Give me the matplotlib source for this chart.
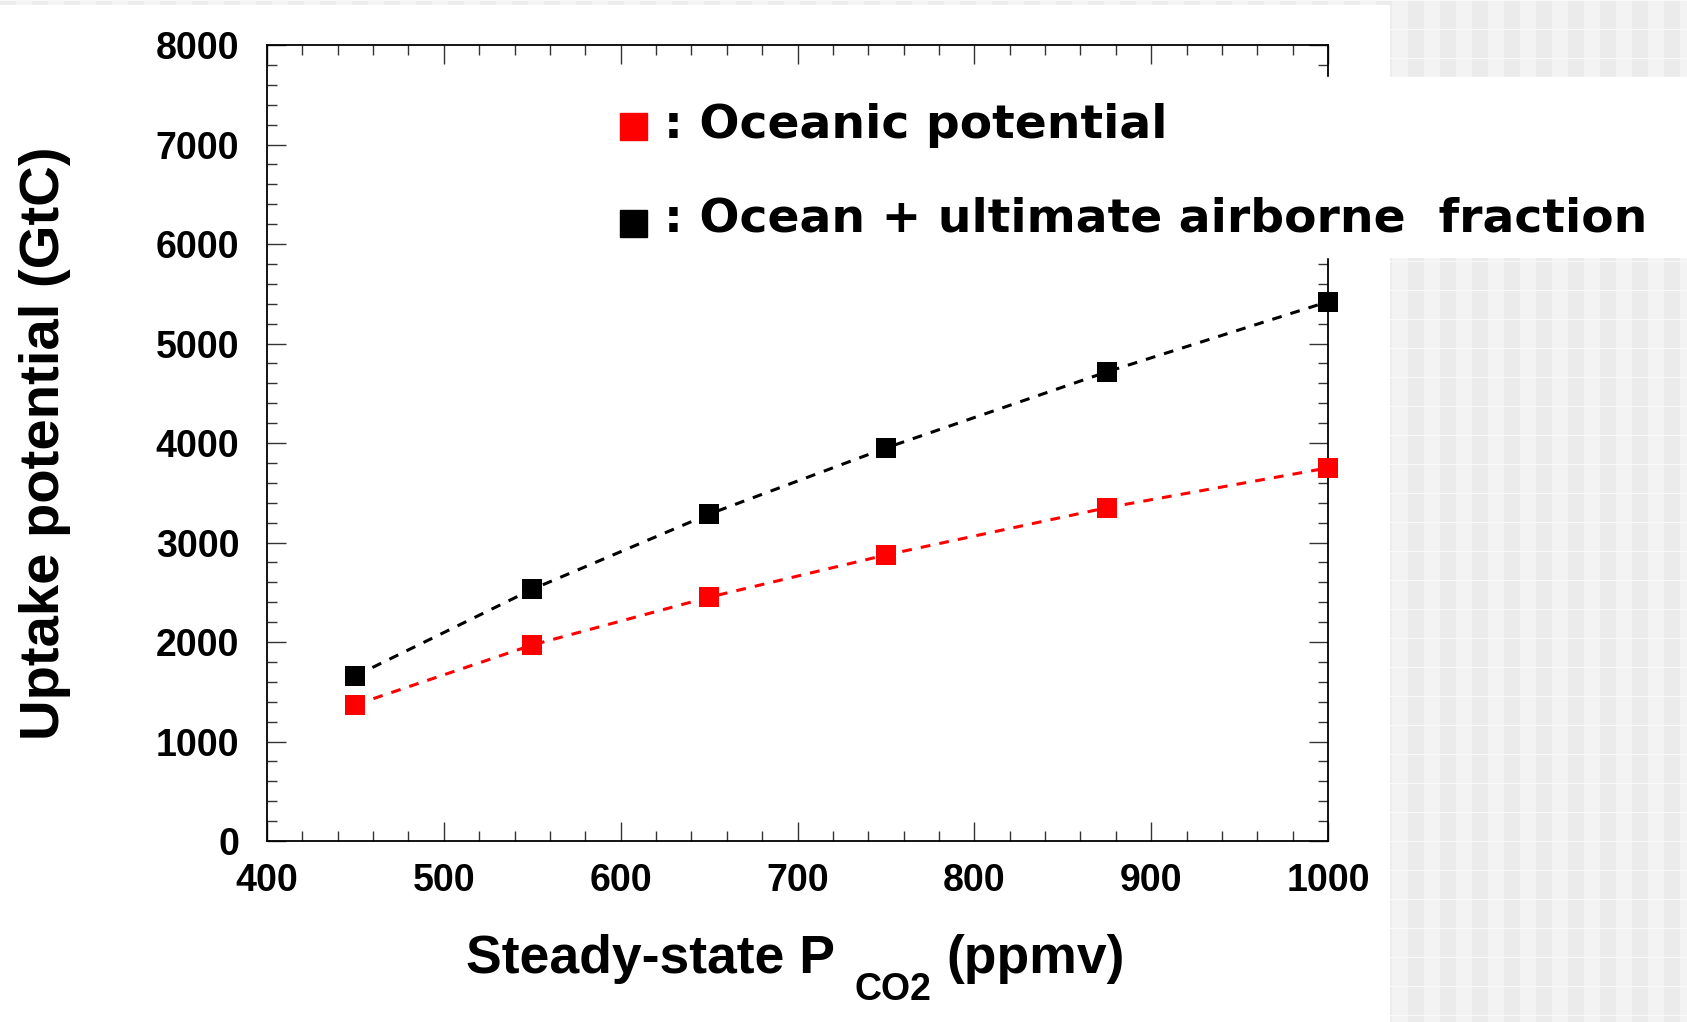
import numpy as np
import matplotlib as mpl
mpl.use('Agg')
import matplotlib.pyplot as plt
from matplotlib.patches import Rectangle
from matplotlib.ticker import MultipleLocator


W, H = 1687, 1022

# steady-state pCO2 (ppmv) and uptake potential (GtC)
pco2 = [450, 550, 650, 750, 875, 1000]
ocean_uptake = [1370, 1970, 2450, 2875, 3350, 3750]
total_uptake = [1660, 2530, 3285, 3950, 4715, 5420]
series_colors = ['#ff0000', '#000000']
legend_labels = [': Oceanic potential', ': Ocean + ultimate airborne  fraction']
x_ticks = [400, 500, 600, 700, 800, 900, 1000]
y_ticks = [0, 1000, 2000, 3000, 4000, 5000, 6000, 7000, 8000]

plt.rcParams['font.family'] = 'Liberation Sans'
plt.rcParams['font.weight'] = 'bold'
plt.rcParams['axes.labelweight'] = 'bold'


def px_x(x):
    return x / W


def px_y(y):
    return 1.0 - y / H


def slide_background(fig):
    '''grey striped slide behind the chart'''
    cols = np.arange(W)
    rows = np.arange(H)
    shade = np.where((cols // 16) % 2 == 0, 0.918, 0.952)
    img = np.tile(shade, (H, 1))
    img[rows % 29 == 0, :] = 0.975
    bg = fig.add_axes([0, 0, 1, 1], zorder=-10)
    bg.imshow(img, cmap='gray', vmin=0, vmax=1, aspect='auto',
              interpolation='nearest')
    bg.axis('off')
    # white chart picture and white text box
    fig.add_artist(Rectangle((0, 0), px_x(1389), px_y(5), color='white',
                             transform=fig.transFigure, zorder=-5))
    fig.add_artist(Rectangle((px_x(600), px_y(257)), 1 - px_x(600),
                             px_y(77) - px_y(257), color='white',
                             transform=fig.transFigure, zorder=5))
    return


fig = plt.figure(figsize=(W / 100, H / 100), dpi=100)
slide_background(fig)

ax = fig.add_axes([px_x(267), px_y(841), px_x(1328 - 267), (841 - 45) / H])
ax.patch.set_facecolor('white')

for vals, col in zip([ocean_uptake, total_uptake], series_colors):
    ax.plot(pco2, vals, linestyle=(0, (3.2, 3.0)), linewidth=2.2, color=col,
            marker='s', markersize=15, markeredgewidth=0, clip_on=False,
            zorder=3)

ax.set_xlim(400, 1000)
ax.set_ylim(0, 8000)
ax.set_xticks(x_ticks)
ax.set_yticks(y_ticks)
ax.xaxis.set_minor_locator(MultipleLocator(20))
ax.yaxis.set_minor_locator(MultipleLocator(200))
ax.tick_params(which='both', direction='in', top=True, right=True,
               width=1.0, color='#333333')
ax.tick_params(which='major', length=14)
ax.tick_params(which='minor', length=7.5)
ax.tick_params(axis='y', labelsize=27, pad=20)
ax.tick_params(axis='x', labelsize=27, pad=16)
for spine in ax.spines.values():
    spine.set_linewidth(1.3)

ax.set_ylabel('Uptake potential (GtC)', fontsize=40.5, labelpad=61)

# x label with a dropped subscript, pieces chained left to right
xl_main = fig.text(px_x(466), px_y(973), 'Steady-state P', fontsize=38.5,
                   va='baseline')
xl_sub = ax.annotate('CO2', xy=(1, px_y(1000)),
                     xycoords=(xl_main, 'figure fraction'),
                     xytext=(14, 0), textcoords='offset points',
                     fontsize=27, va='baseline', annotation_clip=False)
ax.annotate('(ppmv)', xy=(1, px_y(973)),
            xycoords=(xl_sub, 'figure fraction'),
            xytext=(11, 0), textcoords='offset points',
            fontsize=38.5, va='baseline', annotation_clip=False)

# legend written as a text box over the plot
for i, (lab, col) in enumerate(zip(legend_labels, series_colors)):
    top = 113 + 97 * i
    fig.add_artist(Rectangle((px_x(620), px_y(top + 27)), 27 / W, 27 / H,
                             color=col, transform=fig.transFigure, zorder=6))
    fig.text(px_x(664), px_y(138 + 93 * i), lab, family='DejaVu Sans',
             weight='bold', fontsize=34, va='baseline', zorder=6)

plt.savefig('out.png', dpi=100)
plt.close()
